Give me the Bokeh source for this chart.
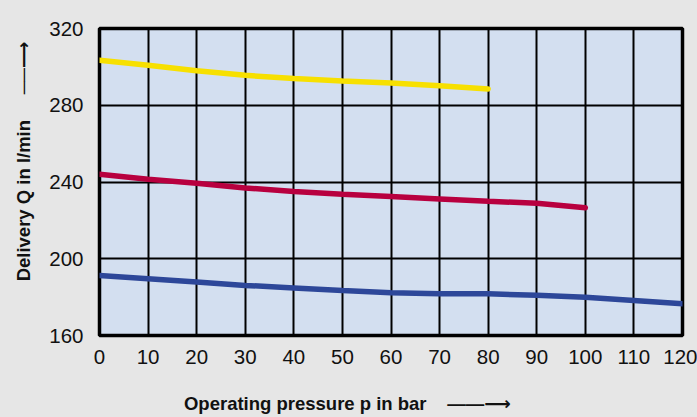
from bokeh.plotting import figure
from bokeh.embed import file_html
from bokeh.resources import INLINE
from bokeh.models import FixedTicker

pressure = [0, 10, 20, 30, 40, 50, 60, 70, 80, 90, 100, 110, 120]
yellow_q = [303.4, 300.8, 298.0, 295.6, 293.9, 292.6, 291.6, 290.2, 288.5]
red_q = [244.0, 241.4, 239.3, 236.9, 235.0, 233.6, 232.4, 231.2, 230.0, 228.9, 226.6]
blue_q = [191.3, 189.6, 187.9, 186.1, 184.8, 183.4, 182.3, 181.7, 181.7, 181.0, 179.9, 178.3, 176.6]
x_ticks = [0, 10, 20, 30, 40, 50, 60, 70, 80, 90, 100, 110, 120]
y_ticks = [160, 200, 240, 280, 320]
x_title = "Operating pressure p in bar"
y_title = "Delivery Q in l/min"
NB = "\u00a0"
X_ARROW = "\u2014\u2014\u27f6"
Y_ARROW = "\u2500\u2500\u27f6"

FONT = "Liberation Sans, DejaVu Sans"
BG = "#e6e6e6"

p = figure(width=697, height=417, output_backend="svg", toolbar_location=None,
           x_range=(0, 120), y_range=(160, 320),
           min_border_left=99, min_border_right=15, min_border_top=28, min_border_bottom=82)
p.border_fill_color = BG
p.background_fill_color = "#d3dff0"
p.outline_line_color = "black"
p.outline_line_width = 3.5

for ax in (p.xaxis, p.yaxis):
    ax.axis_line_color = None
    ax.major_tick_line_color = None
    ax.minor_tick_line_color = None
    ax.major_label_text_font = FONT
    ax.major_label_text_font_size = "20.5px"
    ax.major_label_text_color = "#111111"
    ax.axis_label_text_font = FONT
    ax.axis_label_text_font_size = "18.5px"
    ax.axis_label_text_font_style = "bold"
    ax.axis_label_text_color = "#111111"
p.xaxis.ticker = FixedTicker(ticks=x_ticks)
p.yaxis.ticker = FixedTicker(ticks=y_ticks)
p.xaxis.major_label_standoff = 8
p.yaxis.major_label_standoff = 10

# axis titles, padded with spaces so that text + arrow sit where the reference has them
p.xaxis.axis_label = x_title + NB * 4 + X_ARROW + NB * 17
p.yaxis.axis_label = NB * 8 + y_title + NB * 5 + Y_ARROW
p.xaxis.axis_label_standoff = 26
p.yaxis.axis_label_standoff = 12

p.xgrid.ticker = FixedTicker(ticks=x_ticks)
p.ygrid.ticker = FixedTicker(ticks=y_ticks)
for g in (p.xgrid, p.ygrid):
    g.grid_line_color = "black"
    g.grid_line_width = 2
    g.grid_line_alpha = 1.0

p.line(pressure[:len(yellow_q)], yellow_q, line_color="#f7e000", line_width=5.5, line_cap="round")
p.line(pressure[:len(red_q)], red_q, line_color="#b8003f", line_width=5.5, line_cap="round")
p.line(pressure[:len(blue_q)], blue_q, line_color="#2d4799", line_width=5.5, line_cap="round")

html = file_html(p, INLINE)
html = html.replace("</head>", "<style>html,body{background:%s;margin:0;overflow:hidden;}</style></head>" % BG, 1)
open("out.html", "w").write(html)
